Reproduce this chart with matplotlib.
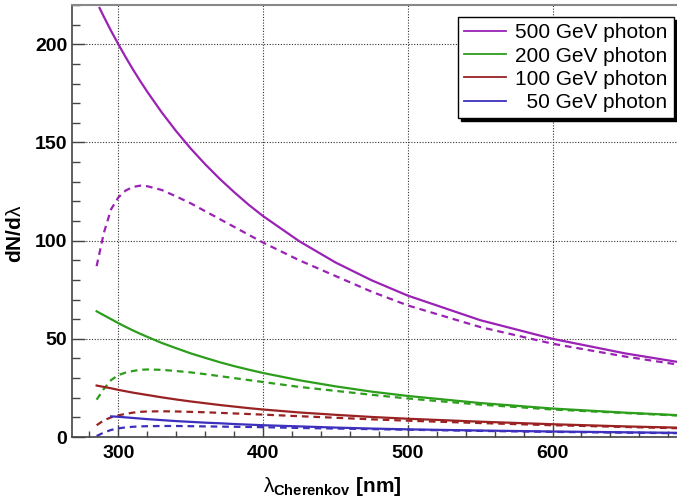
import matplotlib
matplotlib.use("Agg")
import matplotlib.pyplot as plt
from matplotlib.ticker import MultipleLocator

plt.rcParams['font.family'] = ['Liberation Sans', 'DejaVu Sans']
plt.rcParams['mathtext.fontset'] = 'custom'
plt.rcParams['mathtext.rm'] = 'Liberation Sans'
plt.rcParams['mathtext.bf'] = 'Liberation Sans:bold'
plt.rcParams['mathtext.it'] = 'Liberation Sans'

# wavelength grid [nm]
wl = [285, 290, 295, 300, 305, 310, 315, 320, 330, 340, 350, 360, 370, 380, 390, 400,
      425, 450, 475, 500, 550, 600, 650, 690]
wl_500 = [287] + wl[1:]
wl_50 = wl[2:]

# solid curves
n500 = [218.5, 214, 206.8, 200, 193.5, 187.3, 181.4, 175.8, 165.3, 155.7, 146.9, 138.9, 131.5,
        124.7, 118.3, 112.5, 99.7, 88.9, 79.8, 72, 59.5, 50, 42.6, 37.8]
n200 = [64, 62, 60, 58, 56.1, 54.3, 52.6, 51, 47.9, 45.2, 42.6, 40.3, 38.1, 36.1, 34.3, 32.6,
        28.9, 25.8, 23.1, 20.9, 17.3, 14.5, 12.4, 11]
n100 = [26.2, 25.5, 24.8, 24, 23.3, 22.6, 22, 21.4, 20.2, 19.1, 18.1, 17.2, 16.3, 15.5, 14.7, 14,
        12.5, 11.3, 10.2, 9.3, 7.8, 6.5, 5.4, 4.7]
n50 = [10.5, 10.3, 10, 9.7, 9.4, 9.1, 8.6, 8.1, 7.7, 7.3, 7, 6.6, 6.3, 6,
       5.4, 4.8, 4.3, 3.9, 3.3, 2.8, 2.4, 2.1]

# dashed curves
d500 = [87, 104, 116, 122, 125.5, 127.3, 128, 127.7, 125.8, 122.5, 119, 115, 111, 107, 103, 99,
        90, 82, 74, 67, 56, 47.5, 41, 36.5]
d200 = [19, 24.5, 29, 31.5, 32.8, 33.6, 34.2, 34.4, 34.2, 33.6, 32.9, 32, 31, 30, 29, 28,
        25.5, 23.5, 21.5, 19.6, 16.5, 14, 12.2, 10.8]
d100 = [6, 8.5, 10, 11, 11.8, 12.4, 12.8, 13, 13.1, 13, 12.8, 12.6, 12.3, 12, 11.7, 11.4,
        10.6, 9.8, 9, 8.3, 7.1, 6, 5.1, 4.4]
d50 = [0.5, 2.3, 3.6, 4.4, 4.9, 5.2, 5.4, 5.5, 5.6, 5.6, 5.5, 5.4, 5.3, 5.2, 5.1, 5.0,
       4.6, 4.3, 4.0, 3.7, 3.1, 2.6, 2.2, 1.9]

labels = ['500 GeV photon', '200 GeV photon', '100 GeV photon', '  50 GeV photon']
colors = ['#9a22b4', '#2c9e1c', '#9a2222', '#3c30bc']

fig = plt.figure(figsize=(6.77, 5.00), dpi=100)
ax = fig.add_axes([0.1064, 0.126, 0.8936, 0.864])

solid = [(wl_500, n500), (wl, n200), (wl, n100), (wl_50, n50)]
dashed = [d500, d200, d100, d50]
for (x, y), yd, c, lab in zip(solid, dashed, colors, labels):
    ax.plot(x, y, color=c, lw=1.6, label=lab)
    ax.plot(wl, yd, color=c, lw=1.6, dashes=(3, 2.2))

ax.set_xlim(268, 686)
ax.set_ylim(0, 220)
ax.xaxis.set_major_locator(MultipleLocator(100))
ax.xaxis.set_minor_locator(MultipleLocator(20))
ax.yaxis.set_major_locator(MultipleLocator(50))
ax.yaxis.set_minor_locator(MultipleLocator(10))

ax.grid(which='major', color='#333333', linestyle=(0, (1, 1.5)), lw=0.8)
ax.tick_params(which='both', direction='in', colors='#444444', labelcolor='black',
               labelsize=14, top=False, right=False)
ax.tick_params(axis='y', which='major', length=9, width=1)
ax.tick_params(axis='y', which='minor', length=6, width=1)
ax.tick_params(axis='x', which='major', length=9, width=1, pad=6)
ax.tick_params(axis='x', which='minor', length=4.5, width=1)
for t in ax.get_xticklabels() + ax.get_yticklabels():
    t.set_fontweight('bold')

for s in ['left', 'bottom']:
    ax.spines[s].set_color('#444444')
    ax.spines[s].set_linewidth(1.2)
ax.spines['top'].set_color('#888888')
ax.spines['top'].set_linewidth(1.5)
ax.spines['right'].set_visible(False)

ax.set_xlabel(r'$\lambda_{\mathbf{Cherenkov}}$ [nm]', fontsize=15, fontweight='bold', labelpad=2)
ax.xaxis.set_label_coords(0.43, -0.088)
ax.set_ylabel(r'dN/d$\lambda$', fontsize=15, fontweight='bold')
ax.yaxis.set_label_coords(-0.078, 0.47)

leg = ax.legend(loc='upper right', bbox_to_anchor=(0.995, 0.972), fontsize=15,
                frameon=True, fancybox=False, shadow={'color': 'black', 'alpha': 1},
                edgecolor='black', framealpha=1, handlelength=2.0, handletextpad=0.45,
                labelspacing=0.2, borderpad=0.3, borderaxespad=0)
leg.get_frame().set_linewidth(1.0)
for h in leg.get_lines():
    h.set_linewidth(1.3)

fig.savefig('out.png', dpi=100)
